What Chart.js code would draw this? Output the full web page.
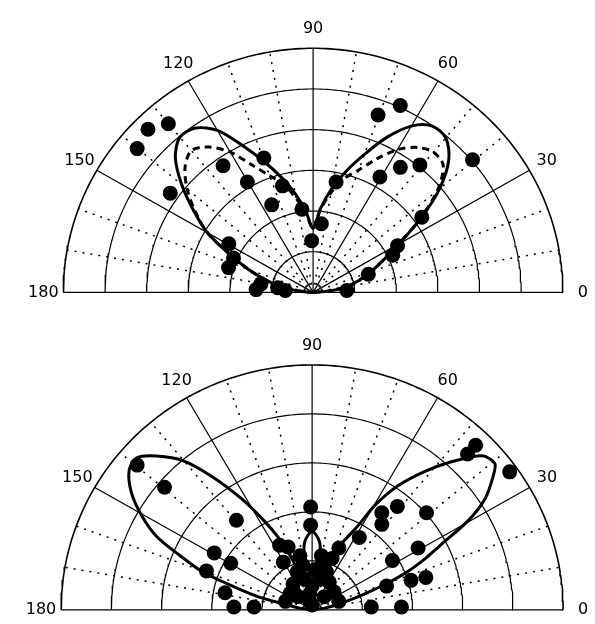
<!DOCTYPE html>
<html>
<head>
<meta charset="utf-8">
<script src="https://cdn.jsdelivr.net/npm/chart.js@4.4.0/dist/chart.umd.min.js"></script>
<style>
  body { margin: 0; background: #fff; }
  canvas { display: block; }
</style>
</head>
<body>
<canvas id="topPlot" width="595" height="318"></canvas>
<canvas id="bottomPlot" width="595" height="306"></canvas>
<script>
// angle ticks (degrees) and their labels
var angleTicks = [0, 30, 60, 90, 120, 150, 180];
var angleLabels = ["0", "30", "60", "90", "120", "150", "180"];

// ---- top panel ----
var topRings = [1, 2, 3, 4, 5, 6];
var topDotAngle = [130.0, 134.7, 140.1, 144.6, 124.8, 120.2, 114.8, 109.7, 105.7, 97.5, 91.6, 83.3,
  149.5, 156.2, 163.3, 170.5, 172.2, 65.5, 70.3, 40.4, 55.7, 50.7, 60.5, 78.5, 35.3, 29.5, 25.6,
  18.6, 3.3, 177.1, 176.0];
var topDotR = [5.41, 5.64, 5.51, 4.21, 3.79, 3.14, 2.37, 3.51, 2.72, 2.06, 1.27, 1.70,
  2.35, 2.09, 2.12, 1.27, 0.86, 5.05, 4.63, 5.03, 3.72, 4.05, 3.26, 2.77, 3.20, 2.33, 2.12,
  1.40, 0.81, 1.37, 0.67];
var topCurveAngle = [0, 5, 10, 15, 20, 25, 30, 35, 40, 45, 50, 55, 60, 65, 70, 75, 80, 85, 90,
  95, 100, 105, 110, 115, 120, 125, 130, 135, 140, 145, 150, 155, 160, 165, 170, 175, 180];
var topSolidR = [0, 0.4, 0.82, 1.15, 1.47, 1.85, 2.37, 3.15, 3.97, 4.61, 4.96, 4.99, 4.72, 4.21, 3.61,
  3.09, 2.59, 2.08, 1.57, 2.0, 2.46, 2.92, 3.41, 3.97, 4.6, 4.93, 4.98, 4.68, 4.12, 3.50, 2.93,
  2.21, 1.65, 1.17, 0.75, 0.3, 0];
var topDashedR = [0, 0.4, 0.82, 1.15, 1.47, 1.85, 2.37, 3.12, 3.9, 4.42, 4.5, 4.35, 4.05, 3.62, 3.2,
  2.9, 2.5, 2.05, 1.57, 1.95, 2.35, 2.75, 3.05, 3.45, 3.98, 4.36, 4.55, 4.35, 3.95, 3.45, 2.93,
  2.21, 1.65, 1.17, 0.75, 0.3, 0];

// ---- bottom panel ----
var bottomRings = [1, 2, 3, 4, 5];
var bottomDotAngle = [139.7, 139.6, 129.5, 149.2, 149.6, 159.3, 168.6, 177.9, 177.1, 116.2, 110.4,
  90.8, 91.0, 45.9, 45.8, 35.6, 51.2, 41.0, 51.5, 57.5, 67.1, 30.9, 32.2, 16.3, 17.0, 18.1, 2.8, 1.9,
  120.5, 69.2, 111.2, 70.1, 125.8, 58.9, 98.4, 105.5, 102.4, 80.5, 86.6, 136.0, 48.2, 55.0,
  103.2, 76.8, 90.0, 161.9, 18.1, 101.4, 78.6, 142.9, 40.2, 90.0];
var bottomDotR = [4.57, 3.86, 2.37, 2.27, 1.88, 2.25, 1.77, 1.56, 1.16, 1.47, 1.37,
  2.10, 1.73, 4.68, 4.44, 4.84, 2.71, 3.02, 2.23, 1.75, 1.37, 2.46, 1.89, 2.36, 2.06, 1.56, 1.18, 1.78,
  1.13, 1.12, 0.83, 0.83, 0.65, 0.66, 0.33, 0.18, 1.13, 1.12, 0.82, 0.39, 0.36, 2.42,
  0.64, 0.64, 0.49, 0.56, 0.56, 0.93, 0.93, 0.55, 0.57, 0.1];
var bottomCurveAngle = [0, 8, 12, 15, 17.3, 20, 22.3, 25, 27.2, 30.4, 33.4, 37, 39.4, 42.9, 47.8,
  51.7, 56.1, 59.6, 61.9, 66.5, 70.2, 75, 80, 84, 90, 96, 100, 105, 111.5, 114.7, 117.8, 121.8,
  126.2, 130.2, 134.6, 138.3, 141.9, 146.3, 150.3, 154.2, 157.2, 160.4, 163.2, 166, 168, 172, 180];
var bottomSolidR = [0, 0.25, 0.5, 0.8, 1.11, 1.6, 2.05, 2.5, 2.85, 3.61, 4.13, 4.51, 4.71, 4.62, 4.06,
  3.59, 3.04, 2.48, 1.96, 1.48, 1.18, 0.6, 0.95, 1.4, 1.6, 1.4, 0.95, 0.6, 1.19, 1.65, 2.06, 2.67,
  3.37, 3.99, 4.41, 4.67, 4.63, 4.33, 3.92, 3.44, 2.85, 2.32, 1.61, 1.1, 0.6, 0.25, 0];

// polar (deg, r) -> cartesian points for the scatter scales
function polar(angles, radii) {
  return angles.map(function (a, i) {
    var t = a * Math.PI / 180;
    return { x: radii[i] * Math.cos(t), y: radii[i] * Math.sin(t) };
  });
}

function arc(r) {
  var a = [], rr = [];
  for (var d = 0; d <= 180; d++) { a.push(d); rr.push(r); }
  return polar(a, rr);
}

function lineSet(data, extra) {
  var s = { data: data, showLine: true, pointRadius: 0, borderColor: "#000", borderWidth: 1.2,
    fill: false, tension: 0, clip: false, order: 2 };
  for (var k in extra) s[k] = extra[k];
  return s;
}

var angleLabelPlugin = {
  id: "angleLabels",
  afterDraw: function (chart) {
    var ctx = chart.ctx, xs = chart.scales.x, ys = chart.scales.y;
    var rl = chart.options.plugins.angleLabels.radius;
    ctx.save();
    ctx.fillStyle = "#000";
    ctx.font = "16px 'DejaVu Sans'";
    ctx.textAlign = "center";
    ctx.textBaseline = "middle";
    angleTicks.forEach(function (a, i) {
      var t = a * Math.PI / 180;
      ctx.fillText(angleLabels[i], xs.getPixelForValue(rl * Math.cos(t)), ys.getPixelForValue(rl * Math.sin(t)));
    });
    ctx.restore();
  }
};

function makePolar(id, p) {
  var rmax = p.rings[p.rings.length - 1];
  var sets = [];

  // data dots
  sets.push({ data: polar(p.dotAngle, p.dotR), showLine: false, pointRadius: 7.5, pointHoverRadius: 7.5,
    backgroundColor: "#000", borderColor: "#000", borderWidth: 0, clip: false, order: 0 });

  // model curves
  sets.push(lineSet(polar(p.curveAngle, p.solidR), { borderWidth: 3, tension: 0.3, order: 1 }));
  if (p.dashedR) {
    sets.push(lineSet(polar(p.curveAngle, p.dashedR), { borderWidth: 3, tension: 0.3, borderDash: [7, 5], order: 1 }));
  }

  // grid rings
  p.rings.forEach(function (r) { sets.push(lineSet(arc(r), { borderWidth: r === rmax ? 1.6 : 1.2 })); });

  // spokes: solid every 30 deg, dotted every 10 deg
  for (var d = 0; d <= 180; d += 10) {
    var pts = polar([d, d], [0, rmax]);
    if (d % 30 === 0) sets.push(lineSet(pts, {}));
    else sets.push(lineSet(pts, { borderDash: [2, 6], borderWidth: 1.5 }));
  }

  var c = document.getElementById(id);
  var u = p.unit;
  new Chart(c, {
    type: "scatter",
    data: { datasets: sets },
    options: {
      responsive: false,
      animation: false,
      events: [],
      layout: { padding: 0 },
      plugins: { legend: { display: false }, tooltip: { enabled: false },
        angleLabels: { radius: rmax * 1.08 } },
      scales: {
        x: { type: "linear", display: false, min: -p.cx / u, max: (c.width - p.cx) / u },
        y: { type: "linear", display: false, min: -(c.height - p.cy) / u, max: p.cy / u }
      }
    },
    plugins: [angleLabelPlugin]
  });
}

makePolar("topPlot", { rings: topRings, dotAngle: topDotAngle, dotR: topDotR,
  curveAngle: topCurveAngle, solidR: topSolidR, dashedR: topDashedR,
  unit: 42.7, cx: 313.5, cy: 299 });

makePolar("bottomPlot", { rings: bottomRings, dotAngle: bottomDotAngle, dotR: bottomDotR,
  curveAngle: bottomCurveAngle, solidR: bottomSolidR,
  unit: 51.5, cx: 312.5, cy: 299 });
</script>
</body>
</html>
